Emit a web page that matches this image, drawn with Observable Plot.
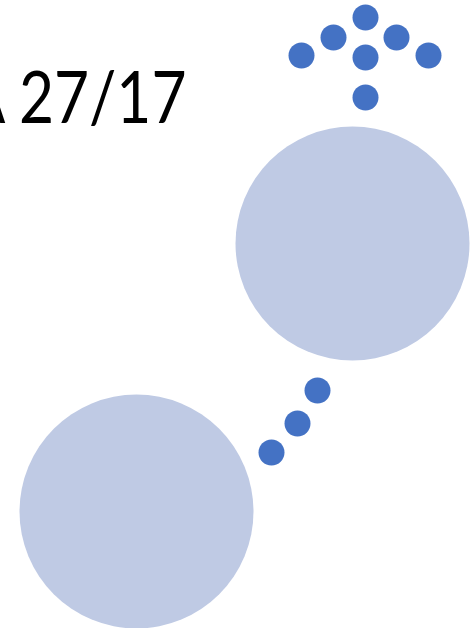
<!DOCTYPE html>
<html>
<head>
<meta charset="utf-8">
<script src="https://cdn.jsdelivr.net/npm/d3@7"></script>
<script src="https://cdn.jsdelivr.net/npm/@observablehq/plot@0.6"></script>
<style>
  html, body { margin: 0; padding: 0; background: #ffffff; overflow: hidden; }
</style>
</head>
<body>
<div id="chart"></div>
<script>
// Large light circles (centre x, centre y, radius, in slide units)
const bigX = [352, 136];
const bigY = [243, 511];
const bigR = [117, 117];

// Small dark dots
const dotX = [365, 333, 396, 301, 365, 428, 365, 317, 297, 271];
const dotY = [17, 37, 37, 55, 57, 55, 97, 390, 423, 452];
const dotR = 13;

// Title text (cut off at the left edge, as in the reference)
const titleText = ["A 27/17"];
const titleX = [186];
const titleY = [122];

const big = bigX.map((x, i) => ({x, y: bigY[i], r: bigR[i]}));
const dots = dotX.map((x, i) => ({x, y: dotY[i]}));
const title = titleText.map((t, i) => ({t, x: titleX[i], y: titleY[i]}));

const chart = Plot.plot({
  width: 474,
  height: 628,
  margin: 0,
  x: {domain: [0, 474], axis: null},
  y: {domain: [628, 0], axis: null},
  r: {type: "identity"},
  style: {background: "#ffffff"},
  marks: [
    Plot.dot(big, {x: "x", y: "y", r: "r", fill: "#BFCAE4", stroke: "none"}),
    Plot.dot(dots, {x: "x", y: "y", r: dotR, fill: "#4472C4", stroke: "none"}),
    Plot.text(title, {x: "x", y: "y", text: "t", textAnchor: "end", lineAnchor: "bottom",
      fontSize: 72, fill: "#000000", fontFamily: "Lato", fontWeight: 400})
  ]
});
// narrow the glyphs horizontally (Calibri-like proportions), anchored at the right end
d3.select(chart).selectAll("text").each(function() {
  const t = this.getAttribute("transform") || "";
  this.setAttribute("transform", t + " scale(0.84,1)");
});
document.getElementById("chart").appendChild(chart);
</script>
</body>
</html>
